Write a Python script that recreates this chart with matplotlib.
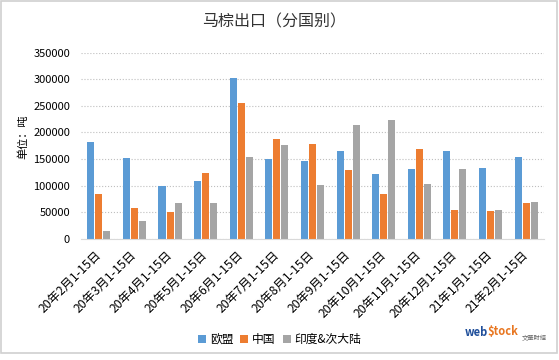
import matplotlib.pyplot as plt
import numpy as np
from matplotlib.patches import Rectangle

plt.rcParams['font.family'] = ['Noto Sans CJK SC', 'DejaVu Sans']

periods = ["20年2月1-15日", "20年3月1-15日", "20年4月1-15日", "20年5月1-15日",
           "20年6月1-15日", "20年7月1-15日", "20年8月1-15日", "20年9月1-15日",
           "20年10月1-15日", "20年11月1-15日", "20年12月1-15日", "21年1月1-15日",
           "21年2月1-15日"]
eu = [183000, 151500, 99800, 109000, 303000, 149700, 146000, 164500,
      122000, 131200, 164500, 133100, 153400]
china = [83800, 57900, 49900, 123800, 255000, 188500, 179300, 129400,
         85000, 168200, 55400, 51700, 68400]
india = [14800, 33300, 68400, 68400, 153400, 177400, 101600, 214400,
         223600, 103500, 131200, 53600, 70200]

series = [("欧盟", eu, "#5B9BD5"), ("中国", china, "#ED7D31"), ("印度&次大陆", india, "#A5A5A5")]

fig = plt.figure(figsize=(5.59, 3.6), dpi=100)
ax = fig.add_axes([0.145, 0.336, 0.828, 0.518])

x = np.arange(len(periods))
w = 0.2
for i, (name, vals, col) in enumerate(series):
    ax.bar(x + (i - 1) * 0.225, vals, width=w, color=col, label=name)

ax.set_ylim(0, 350000)
ax.set_yticks(range(0, 350001, 50000))
ax.set_xlim(-0.5, len(periods) - 0.5)
ax.set_xticks(x)
ax.set_xticklabels(periods, rotation=45, ha='right', va='center', rotation_mode='anchor', fontsize=8.8)
ax.tick_params(axis='y', labelsize=8, length=0, pad=8)
ax.tick_params(axis='x', length=0, pad=10)
ax.grid(axis='y', linestyle=':', color='#BFBFBF', linewidth=0.8)
ax.set_axisbelow(True)
for s in ['top', 'right', 'left']:
    ax.spines[s].set_visible(False)
ax.spines['bottom'].set_color('#D9D9D9')

fig.text(0.041, 0.62, "单位：吨", rotation=90, ha='center', va='center', fontsize=8)
fig.text(0.49, 0.94, "马棕出口（分国别）", ha='center', va='center', fontsize=11.5, color='#333333')

ax.legend(loc='center', bbox_to_anchor=(0.5, 0.056), bbox_transform=fig.transFigure,
          ncol=3, frameon=False, fontsize=8.5, handlelength=0.7, handleheight=0.7,
          handletextpad=0.3, columnspacing=0.6)

# watermark
fig.text(0.872, 0.075, "web", color='#1F4E9A', fontsize=8, fontweight='bold', ha='right', va='center')
fig.text(0.872, 0.078, "$tock", color='#E87722', fontsize=8, fontweight='bold', ha='left', va='center')
fig.text(0.955, 0.062, "文華財經", color='#666666', fontsize=4.5, ha='center', va='center')

fig.patches.append(Rectangle((0.002, 0.02), 0.995, 0.977, transform=fig.transFigure,
                             fill=False, edgecolor='#D0D0D0', linewidth=1.2))

fig.savefig("out.png", dpi=100)
